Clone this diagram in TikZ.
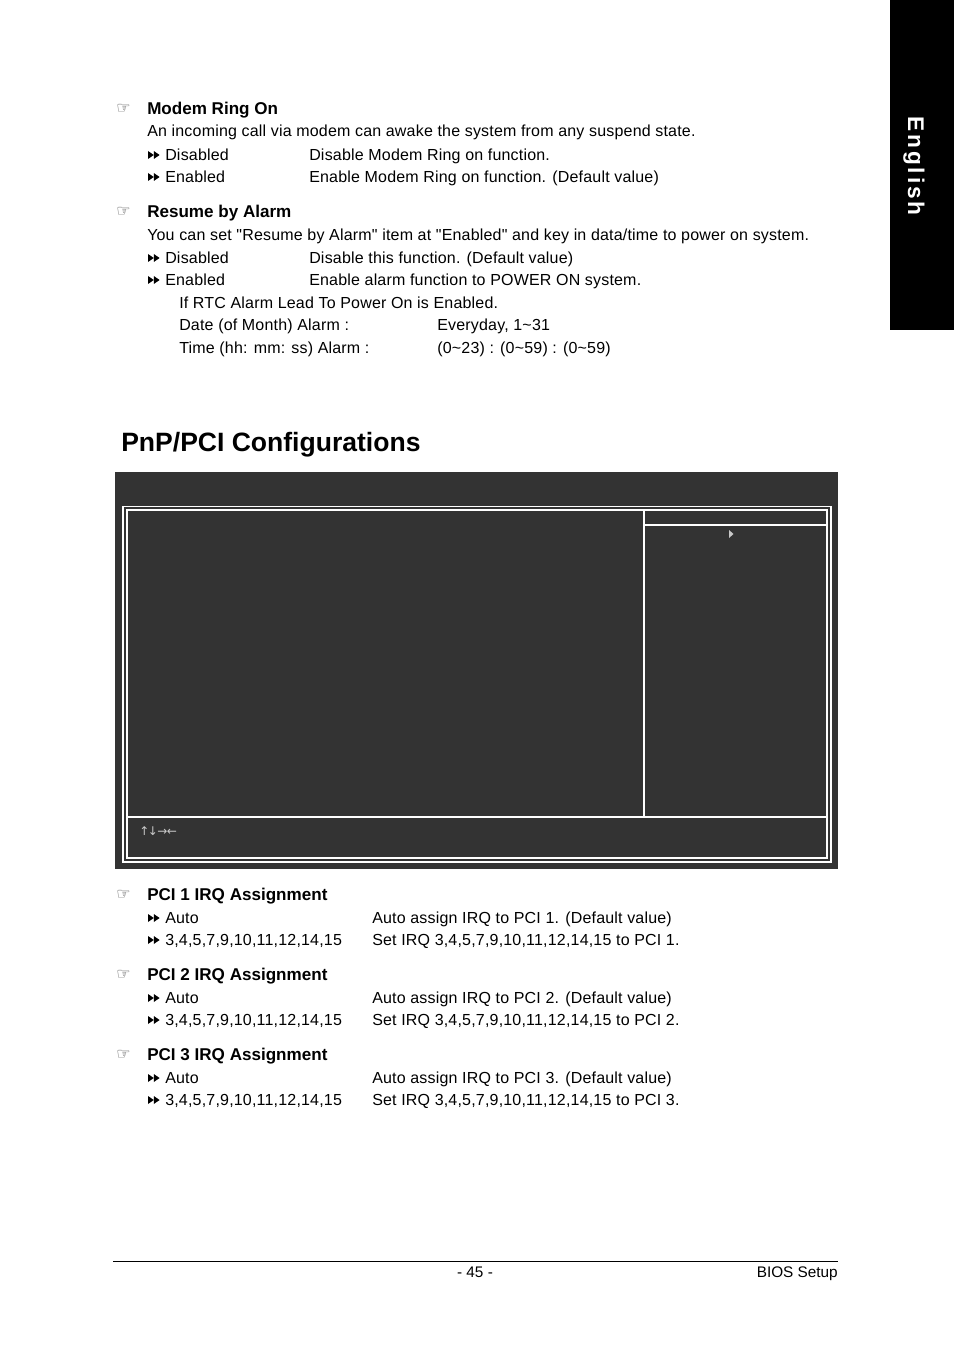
\documentclass[tikz,border=0pt]{standalone}
\usepackage{fontspec}
\setmainfont{Liberation Sans}[Ligatures=TeXOff]
\newfontfamily\dejavu{DejaVu Sans}
\definecolor{biosbg}{HTML}{333333}
\definecolor{handgray}{HTML}{444444}
\definecolor{keygray}{HTML}{C8C8C8}
\begin{document}
\begin{tikzpicture}[x=0.75pt,y=-0.75pt,
  body/.style={anchor=base west,inner sep=0pt,font=\fontsize{12}{14}\selectfont\addfontfeatures{LetterSpace=1.2}},
  head/.style={anchor=base west,inner sep=0pt,font=\fontsize{12.8}{15}\selectfont\bfseries},
  hand/.style={anchor=west,inner sep=0pt,text=handgray,font=\dejavu\fontsize{12}{12}\selectfont},
  frameline/.style={draw=white,line width=0.9pt},
  ffw/.pic={\fill (0,-4)--(5.8,0)--(0,4)--cycle; \fill (5.8,-4)--(11.6,0)--(5.8,4)--cycle;}]
\useasboundingbox (0,0) rectangle (954,1358);

% English tab
\fill[black] (890,0) rectangle (954,330);
\node[rotate=-90,anchor=base,inner sep=0pt,text=white,font=\fontsize{17}{18}\selectfont\bfseries\addfontfeatures{LetterSpace=13}] (tab) at (908,166) {English};

% Modem Ring On
\node[hand] (h1) at (116,109) {☞};
\node[head] (t1) at (147,114.4) {Modem Ring On};
\node[body] (t1a) at (147,136.5) {An incoming call via modem can awake the system from any  suspend state.};
\pic at (148,155) {ffw};
\node[body] (t1b) at (165,160.5) {Disabled};
\node[body] (t1c) at (309,160.5) {Disable Modem Ring on function.};
\pic at (148,177) {ffw};
\node[body] (t1d) at (165,182.5) {Enabled};
\node[body] (t1e) at (309,182.5) {Enable Modem Ring on function. (Default value)};

% Resume by Alarm
\node[hand] (h2) at (116,212) {☞};
\node[head] (t2) at (147,217.4) {Resume by Alarm};
\node[body] (t2a) at (147,240.5) {You can set "Resume by  Alarm" item at "Enabled" and key in data/time to power on system.};
\pic at (148,258) {ffw};
\node[body] (t2b) at (165,263.5) {Disabled};
\node[body] (t2c) at (309,263.5) {Disable this function. (Default value)};
\pic at (148,280) {ffw};
\node[body] (t2d) at (165,285.5) {Enabled};
\node[body] (t2e) at (309,285.5) {Enable alarm function to POWER ON system.};
\node[body] (t2f) at (179,308.5) {If RTC Alarm Lead To Power On is Enabled.};
\node[body] (t2g) at (179,330.5) {Date (of Month) Alarm :};
\node[body] (t2h) at (437,330.5) {Everyday, 1\textasciitilde 31};
\node[body] (t2i) at (179,353.5) {Time (hh: mm: ss) Alarm :};
\node[body] (t2j) at (437,353.5) {(0\textasciitilde 23) : (0\textasciitilde 59) : (0\textasciitilde 59)};

% Title
\node[anchor=base west,inner sep=0pt,font=\fontsize{19.9}{22}\selectfont\bfseries] (title) at (121,451) {PnP/PCI Configurations};

% BIOS screen
\fill[biosbg] (115,472) rectangle (838,869);
\draw[frameline] (123,506.5) rectangle (831,862);
\draw[frameline] (127,510) rectangle (827,858);
\draw[frameline] (644,510) -- (644,817);
\draw[frameline] (127,817) -- (827,817);
\draw[frameline] (644,525) -- (827,525);
\fill[keygray] (729,530) -- (733.5,534) -- (729,538) -- cycle;
\node[anchor=west,inner sep=0pt,text=keygray,font=\dejavu\fontsize{9}{10}\selectfont] (keys) at (139,831) {↑\kern-1pt↓\kern-0.5pt→\kern-0.5pt←};

% PCI 1
\node[hand] (h3) at (116,895) {☞};
\node[head] (p1) at (147,900.4) {PCI 1 IRQ Assignment};
\pic at (148,918) {ffw};
\node[body] (p1a) at (165,923.5) {Auto};
\node[body] (p1b) at (372,923.5) {Auto assign IRQ to PCI 1. (Default value)};
\pic at (148,940) {ffw};
\node[body] (p1c) at (165,945.5) {3,4,5,7,9,10,11,12,14,15};
\node[body] (p1d) at (372,945.5) {Set IRQ 3,4,5,7,9,10,11,12,14,15 to PCI 1.};

% PCI 2
\node[hand] (h4) at (116,975) {☞};
\node[head] (p2) at (147,980.4) {PCI 2 IRQ Assignment};
\pic at (148,998) {ffw};
\node[body] (p2a) at (165,1003.5) {Auto};
\node[body] (p2b) at (372,1003.5) {Auto assign IRQ to PCI 2. (Default value)};
\pic at (148,1020) {ffw};
\node[body] (p2c) at (165,1025.5) {3,4,5,7,9,10,11,12,14,15};
\node[body] (p2d) at (372,1025.5) {Set IRQ 3,4,5,7,9,10,11,12,14,15 to PCI 2.};

% PCI 3
\node[hand] (h5) at (116,1055) {☞};
\node[head] (p3) at (147,1060.4) {PCI 3 IRQ Assignment};
\pic at (148,1078) {ffw};
\node[body] (p3a) at (165,1083.5) {Auto};
\node[body] (p3b) at (372,1083.5) {Auto assign IRQ to PCI 3. (Default value)};
\pic at (148,1100) {ffw};
\node[body] (p3c) at (165,1105.5) {3,4,5,7,9,10,11,12,14,15};
\node[body] (p3d) at (372,1105.5) {Set IRQ 3,4,5,7,9,10,11,12,14,15 to PCI 3.};

% Footer
\draw[line width=0.75pt] (113,1261) -- (838,1261);
\node[anchor=base,inner sep=0pt,font=\fontsize{11.5}{13}\selectfont] (pg) at (475,1277) {- 45 -};
\node[anchor=base east,inner sep=0pt,font=\fontsize{11.5}{13}\selectfont] (bs) at (838,1277) {BIOS Setup};
\end{tikzpicture}
\end{document}
